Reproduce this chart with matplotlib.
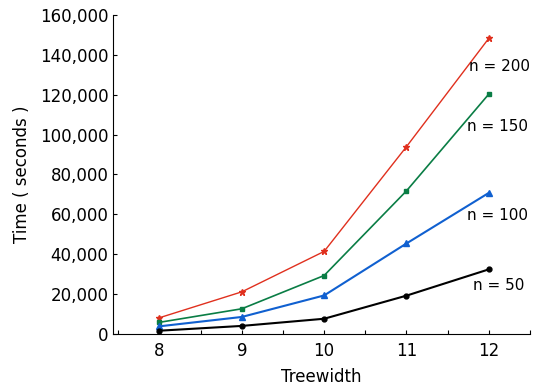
import matplotlib
matplotlib.use("Agg")
import matplotlib.pyplot as plt
from matplotlib.ticker import FuncFormatter, MultipleLocator

treewidth = [8, 9, 10, 11, 12]
n200 = [8000, 21000, 41300, 93900, 148300]
n150 = [5700, 12500, 29200, 71700, 120300]
n100 = [3700, 8400, 19200, 45300, 70700]
n50 = [1500, 3900, 7500, 19100, 32300]
labels = ["n = 200", "n = 150", "n = 100", "n = 50"]

fig = plt.figure(figsize=(5.34, 3.9), dpi=100)
ax = fig.add_axes([0.2122, 0.1444, 0.7803, 0.8171])

ax.plot(treewidth, n200, color="#e0301e", lw=1.0, marker="*", ms=5)
ax.plot(treewidth, n150, color="#0a7d45", lw=1.2, marker="s", ms=3.5)
ax.plot(treewidth, n100, color="#1060d0", lw=1.5, marker="^", ms=4.5)
ax.plot(treewidth, n50, color="#000000", lw=1.5, marker="o", ms=3.5)

ax.text(12.13, 134000, labels[0], ha="center", va="center", fontsize=11)
ax.text(12.10, 104000, labels[1], ha="center", va="center", fontsize=11)
ax.text(12.11, 59500, labels[2], ha="center", va="center", fontsize=11)
ax.text(12.12, 24300, labels[3], ha="center", va="center", fontsize=11)

ax.set_xlim(7.44, 12.5)
ax.set_ylim(0, 160000)
ax.set_xticks(treewidth)
ax.xaxis.set_minor_locator(MultipleLocator(0.5))
ax.yaxis.set_major_locator(MultipleLocator(20000))
ax.yaxis.set_major_formatter(FuncFormatter(lambda v, p: f"{int(v):,}"))
ax.spines["top"].set_visible(False)
ax.spines["right"].set_visible(False)
ax.tick_params(axis="both", direction="in", labelsize=12, length=3, width=0.8)
ax.tick_params(axis="x", which="minor", direction="in", length=3, width=0.8)
ax.tick_params(axis="x", pad=6)
ax.set_xlabel("Treewidth", fontsize=12, labelpad=6)
ax.set_ylabel("Time ( seconds )", fontsize=12, labelpad=6)

fig.savefig("out.png", dpi=100)
